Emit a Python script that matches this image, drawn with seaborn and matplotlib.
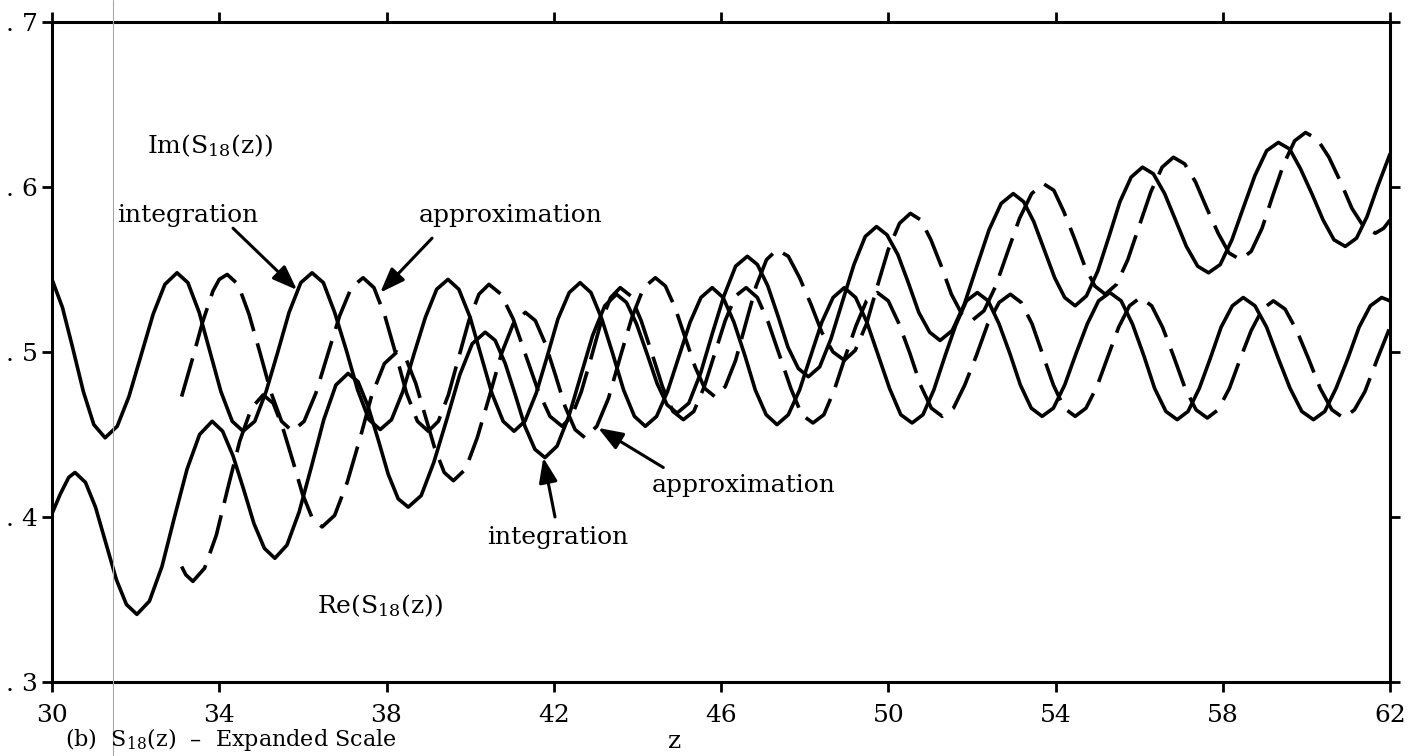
import matplotlib
matplotlib.use("Agg")
import matplotlib.pyplot as plt
import seaborn as sns
from matplotlib.lines import Line2D

# ---------------- data ----------------
# Im(S18) "integration" (solid, upper at left)
im_int_z = [30.00, 30.25, 30.50, 30.75, 31.00,
            31.27, 31.56, 31.84, 32.13, 32.42, 32.70,
            32.99, 33.25, 33.52, 33.78, 34.04, 34.31,
            34.57, 34.85, 35.12, 35.40, 35.67, 35.95,
            36.22, 36.49, 36.76, 37.04, 37.31, 37.58,
            37.85, 38.12, 38.39, 38.66, 38.93, 39.20,
            39.47, 39.73, 40.00, 40.26, 40.52, 40.79,
            41.05, 41.31, 41.58, 41.84, 42.10, 42.37,
            42.63, 42.89, 43.15, 43.41, 43.67, 43.93,
            44.19, 44.46, 44.72, 44.99, 45.26, 45.52,
            45.79, 46.05, 46.31, 46.57, 46.82, 47.08,
            47.34, 47.61, 47.88, 48.15, 48.41, 48.68,
            48.95, 49.22, 49.49, 49.76, 50.03, 50.30,
            50.57, 50.83, 51.09, 51.35, 51.61, 51.87,
            52.13, 52.39, 52.65, 52.91, 53.16, 53.42,
            53.68, 53.95, 54.22, 54.49, 54.76, 55.03,
            55.30, 55.57, 55.84, 56.11, 56.37, 56.64,
            56.91, 57.17, 57.44, 57.70, 57.96, 58.23,
            58.49, 58.77, 59.05, 59.33, 59.61, 59.89,
            60.17, 60.44, 60.71, 60.99, 61.26, 61.53,
            61.80, 62.00]
im_int_y = [0.544, 0.527, 0.502, 0.476, 0.456,
            0.448, 0.455, 0.473, 0.498, 0.523, 0.541,
            0.548, 0.542, 0.524, 0.500, 0.476, 0.458,
            0.452, 0.458, 0.476, 0.500, 0.524, 0.542,
            0.548, 0.542, 0.524, 0.501, 0.477, 0.459,
            0.453, 0.459, 0.476, 0.499, 0.521, 0.538,
            0.544, 0.538, 0.521, 0.498, 0.475, 0.458,
            0.452, 0.458, 0.475, 0.497, 0.520, 0.536,
            0.542, 0.536, 0.520, 0.499, 0.477, 0.461,
            0.455, 0.461, 0.476, 0.497, 0.518, 0.533,
            0.539, 0.533, 0.518, 0.498, 0.477, 0.462,
            0.456, 0.462, 0.477, 0.498, 0.518, 0.533,
            0.539, 0.533, 0.518, 0.498, 0.478, 0.462,
            0.457, 0.462, 0.477, 0.497, 0.516, 0.531,
            0.536, 0.531, 0.517, 0.499, 0.480, 0.466,
            0.461, 0.466, 0.480, 0.499, 0.517, 0.531,
            0.536, 0.531, 0.517, 0.498, 0.478, 0.464,
            0.459, 0.464, 0.478, 0.496, 0.515, 0.528,
            0.533, 0.528, 0.515, 0.496, 0.478, 0.464,
            0.459, 0.464, 0.478, 0.496, 0.515, 0.528,
            0.533, 0.531]

# Im(S18) "approximation" (dashed)
im_apx_z = [33.10, 33.35, 33.60, 33.85, 34.00,
            34.19, 34.45, 34.71, 34.97, 35.23, 35.49,
            35.75, 36.03, 36.31, 36.60, 36.88, 37.16,
            37.44, 37.70, 37.96, 38.22, 38.48, 38.74,
            39.00, 39.24, 39.48, 39.73, 39.97, 40.21,
            40.45, 40.74, 41.03, 41.33, 41.62, 41.91,
            42.20, 42.43, 42.66, 42.90, 43.13, 43.36,
            43.59, 43.84, 44.09, 44.35, 44.60, 44.85,
            45.10, 45.35, 45.60, 45.85, 46.10, 46.35,
            46.60, 46.87, 47.13, 47.40, 47.67, 47.93,
            48.20, 48.46, 48.71, 48.97, 49.23, 49.48,
            49.74, 50.00, 50.26, 50.52, 50.77, 51.03,
            51.29, 51.56, 51.83, 52.11, 52.38, 52.65,
            52.92, 53.18, 53.44, 53.70, 53.95, 54.21,
            54.47, 54.73, 54.99, 55.25, 55.51, 55.77,
            56.03, 56.30, 56.56, 56.83, 57.10, 57.36,
            57.63, 57.89, 58.16, 58.42, 58.68, 58.95,
            59.21, 59.49, 59.77, 60.05, 60.33, 60.61,
            60.89, 61.15, 61.40, 61.70, 62.00]
im_apx_y = [0.473, 0.495, 0.518, 0.537, 0.544,
            0.547, 0.541, 0.523, 0.500, 0.476, 0.458,
            0.452, 0.458, 0.475, 0.499, 0.522, 0.539,
            0.545, 0.539, 0.522, 0.499, 0.475, 0.458,
            0.452, 0.458, 0.474, 0.497, 0.519, 0.535,
            0.541, 0.535, 0.520, 0.498, 0.477, 0.461,
            0.455, 0.461, 0.476, 0.497, 0.518, 0.533,
            0.539, 0.534, 0.519, 0.499, 0.479, 0.464,
            0.459, 0.464, 0.479, 0.499, 0.519, 0.534,
            0.539, 0.533, 0.518, 0.498, 0.478, 0.462,
            0.457, 0.462, 0.477, 0.497, 0.516, 0.531,
            0.536, 0.531, 0.517, 0.499, 0.480, 0.466,
            0.461, 0.466, 0.480, 0.498, 0.517, 0.530,
            0.535, 0.530, 0.517, 0.498, 0.480, 0.466,
            0.461, 0.466, 0.479, 0.497, 0.515, 0.528,
            0.533, 0.528, 0.515, 0.497, 0.478, 0.465,
            0.460, 0.465, 0.478, 0.496, 0.513, 0.526,
            0.531, 0.526, 0.513, 0.496, 0.478, 0.465,
            0.460, 0.465, 0.476, 0.496, 0.515]

# Re(S18) "integration" (solid, lower at left)
re_int_z = [30.00, 30.20, 30.40,
            30.55, 30.80, 31.04, 31.29, 31.54, 31.78,
            32.03, 32.33, 32.63, 32.93, 33.23, 33.53,
            33.83, 34.08, 34.33, 34.58, 34.83, 35.08,
            35.33, 35.62, 35.91, 36.21, 36.50, 36.79,
            37.08, 37.32, 37.56, 37.80, 38.04, 38.28,
            38.52, 38.83, 39.13, 39.44, 39.75, 40.05,
            40.36, 40.60, 40.84, 41.08, 41.31, 41.55,
            41.79, 42.08, 42.36, 42.65, 42.93, 43.22,
            43.50, 43.74, 43.98, 44.23, 44.47, 44.71,
            44.95, 45.23, 45.51, 45.79, 46.07, 46.35,
            46.63, 46.87, 47.12, 47.36, 47.60, 47.85,
            48.09, 48.36, 48.63, 48.91, 49.18, 49.45,
            49.72, 49.97, 50.23, 50.48, 50.73, 50.99,
            51.24, 51.53, 51.82, 52.12, 52.41, 52.70,
            52.99, 53.24, 53.48, 53.73, 53.98, 54.22,
            54.47, 54.74, 55.01, 55.28, 55.54, 55.81,
            56.08, 56.34, 56.61, 56.87, 57.13, 57.40,
            57.66, 57.94, 58.22, 58.50, 58.77, 59.05,
            59.33, 59.60, 59.86, 60.13, 60.40, 60.66,
            60.93, 61.20, 61.45, 61.70, 62.00]
re_int_y = [0.402, 0.414, 0.424,
            0.427, 0.421, 0.406, 0.384, 0.362, 0.347,
            0.341, 0.349, 0.370, 0.400, 0.429, 0.450,
            0.458, 0.452, 0.437, 0.417, 0.396, 0.381,
            0.375, 0.383, 0.403, 0.431, 0.459, 0.480,
            0.487, 0.482, 0.467, 0.447, 0.426, 0.411,
            0.406, 0.413, 0.433, 0.459, 0.486, 0.505,
            0.512, 0.507, 0.493, 0.474, 0.455, 0.441,
            0.436, 0.443, 0.461, 0.486, 0.510, 0.528,
            0.535, 0.530, 0.517, 0.499, 0.481, 0.468,
            0.463, 0.469, 0.487, 0.511, 0.534, 0.552,
            0.558, 0.553, 0.540, 0.522, 0.503, 0.490,
            0.485, 0.491, 0.508, 0.531, 0.553, 0.570,
            0.576, 0.571, 0.559, 0.542, 0.524, 0.512,
            0.507, 0.513, 0.529, 0.552, 0.574, 0.590,
            0.596, 0.591, 0.579, 0.562, 0.545, 0.533,
            0.528, 0.534, 0.549, 0.570, 0.591, 0.606,
            0.612, 0.608, 0.596, 0.580, 0.564, 0.552,
            0.548, 0.553, 0.568, 0.588, 0.607, 0.622,
            0.627, 0.623, 0.611, 0.596, 0.580, 0.568,
            0.564, 0.569, 0.582, 0.600, 0.620]

# Re(S18) "approximation" (dashed)
re_apx_z = [33.10, 33.20,
            33.37, 33.65, 33.93, 34.21, 34.49, 34.77,
            35.05, 35.29, 35.52, 35.76, 35.99, 36.23,
            36.46, 36.76, 37.06, 37.36, 37.65, 37.95,
            38.25, 38.48, 38.70, 38.93, 39.15, 39.38,
            39.60, 39.89, 40.17, 40.46, 40.75, 41.03,
            41.32, 41.56, 41.80, 42.04, 42.27, 42.51,
            42.75, 43.03, 43.31, 43.59, 43.87, 44.15,
            44.43, 44.67, 44.90, 45.14, 45.38, 45.61,
            45.85, 46.10, 46.35, 46.60, 46.84, 47.09,
            47.34, 47.61, 47.88, 48.15, 48.41, 48.68,
            48.95, 49.21, 49.48, 49.74, 50.00, 50.27,
            50.53, 50.78, 51.02, 51.27, 51.51, 51.76,
            52.00, 52.29, 52.57, 52.86, 53.14, 53.43,
            53.71, 53.96, 54.20, 54.45, 54.70, 54.94,
            55.19, 55.46, 55.73, 56.01, 56.28, 56.55,
            56.82, 57.09, 57.35, 57.62, 57.89, 58.15,
            58.42, 58.68, 58.94, 59.20, 59.46, 59.72,
            59.98, 60.26, 60.54, 60.82, 61.09, 61.37,
            61.65, 61.85, 62.00]
re_apx_y = [0.370, 0.365,
            0.361, 0.369, 0.389, 0.418, 0.446, 0.466,
            0.474, 0.469, 0.454, 0.434, 0.414, 0.399,
            0.394, 0.401, 0.421, 0.447, 0.474, 0.493,
            0.500, 0.495, 0.481, 0.461, 0.442, 0.427,
            0.422, 0.429, 0.448, 0.473, 0.499, 0.517,
            0.524, 0.519, 0.505, 0.486, 0.467, 0.453,
            0.448, 0.455, 0.472, 0.497, 0.521, 0.539,
            0.545, 0.540, 0.527, 0.509, 0.491, 0.478,
            0.473, 0.479, 0.495, 0.518, 0.540, 0.556,
            0.562, 0.558, 0.545, 0.529, 0.512, 0.500,
            0.495, 0.501, 0.517, 0.540, 0.562, 0.578,
            0.584, 0.580, 0.568, 0.552, 0.535, 0.523,
            0.519, 0.525, 0.540, 0.561, 0.581, 0.596,
            0.602, 0.598, 0.585, 0.569, 0.552, 0.540,
            0.535, 0.541, 0.556, 0.577, 0.597, 0.612,
            0.618, 0.614, 0.603, 0.587, 0.572, 0.560,
            0.556, 0.561, 0.575, 0.595, 0.614, 0.628,
            0.633, 0.629, 0.618, 0.603, 0.587, 0.576,
            0.572, 0.575, 0.580]

x_ticks = [30, 34, 38, 42, 46, 50, 54, 58, 62]
x_tick_labels = ["30", "34", "38", "42", "46", "50", "54", "58", "62"]
y_ticks = [0.3, 0.4, 0.5, 0.6, 0.7]
y_tick_labels = [". 3", ". 4", ". 5", ". 6", ". 7"]

# ---------------- style ----------------
sns.set_style("ticks")
plt.rcParams["font.family"] = ["DejaVu Serif", "DejaVu Sans"]
plt.rcParams["mathtext.fontset"] = "dejavuserif"
plt.rcParams["mathtext.default"] = "regular"
for key in ["text.color", "axes.labelcolor", "xtick.color", "ytick.color",
            "axes.edgecolor"]:
    plt.rcParams[key] = "black"

W, H = 1422, 756
fig = plt.figure(figsize=(W / 100, H / 100), dpi=100)
fig.patch.set_facecolor("white")
ax = fig.add_axes([52 / W, 1 - 682 / H, 1338 / W, 660 / H])
ax.set_facecolor("white")

LW = 2.6
DASH = (0, (11, 3.5))
curves = [
    (im_int_z, im_int_y, "-"),
    (im_apx_z, im_apx_y, DASH),
    (re_int_z, re_int_y, "-"),
    (re_apx_z, re_apx_y, DASH),
]
for zs, ys, ls in curves:
    sns.lineplot(x=zs, y=ys, ax=ax, color="black", linewidth=LW,
                 estimator=None, sort=False, legend=False, linestyle=ls,
                 solid_capstyle="round", dash_capstyle="butt")

ax.set_xlim(30, 62)
ax.set_ylim(0.3, 0.7)
ax.set_xticks(x_ticks)
ax.set_xticklabels(x_tick_labels)
ax.set_yticks(y_ticks)
ax.set_yticklabels(y_tick_labels)
ax.set_xlabel("")
ax.set_ylabel("")
for sp in ax.spines.values():
    sp.set_visible(True)
    sp.set_linewidth(2.2)
    sp.set_color("black")
ax.tick_params(axis="both", direction="out", length=7, width=2, colors="black",
               labelcolor="black", top=True, right=True, labeltop=False,
               labelright=False, labelsize=18)
ax.tick_params(axis="x", pad=9)
ax.tick_params(axis="y", pad=3)

# ---------------- annotations ----------------
FS = 18
TXT = dict(fontsize=FS, ha="left", va="baseline", color="black")
ax.text(32.27, 0.6206, "Im($S_{18}$(z))", **TXT)
ax.text(36.34, 0.3418, "Re($S_{18}$(z))", **TXT)
ax.text(31.56, 0.5788, "integration", **TXT)
ax.text(38.76, 0.5788, "approximation", **TXT)
ax.text(44.35, 0.4152, "approximation", **TXT)
ax.text(40.41, 0.3836, "integration", **TXT)

arrow_kw = dict(arrowstyle="-|>,head_length=0.75,head_width=0.28", lw=2.2,
                color="black", shrinkA=0, shrinkB=0, mutation_scale=20)
ax.annotate("", xy=(35.86, 0.5376), xytext=(34.33, 0.575), arrowprops=arrow_kw)
ax.annotate("", xy=(37.85, 0.536), xytext=(39.09, 0.569), arrowprops=arrow_kw)
ax.annotate("", xy=(43.06, 0.454), xytext=(44.62, 0.430), arrowprops=arrow_kw)
ax.annotate("", xy=(41.75, 0.436), xytext=(42.03, 0.400), arrowprops=arrow_kw)

# axis title "z" and the caption under the plot
fig.text(675 / W, 1 - 741 / H, "z", fontsize=FS, ha="center", va="center",
         color="black")
fig.text(65 / W, 1 - 753 / H, "(b)  $S_{18}$(z)  \u2013  Expanded Scale",
         fontsize=16, ha="left", va="bottom", color="black")

# faint scan line of the original page
fig.add_artist(Line2D([113 / W, 113 / W], [0, 1], transform=fig.transFigure,
                      color="#a8a8a8", lw=0.8))

fig.savefig("out.png", dpi=100, facecolor="white")
